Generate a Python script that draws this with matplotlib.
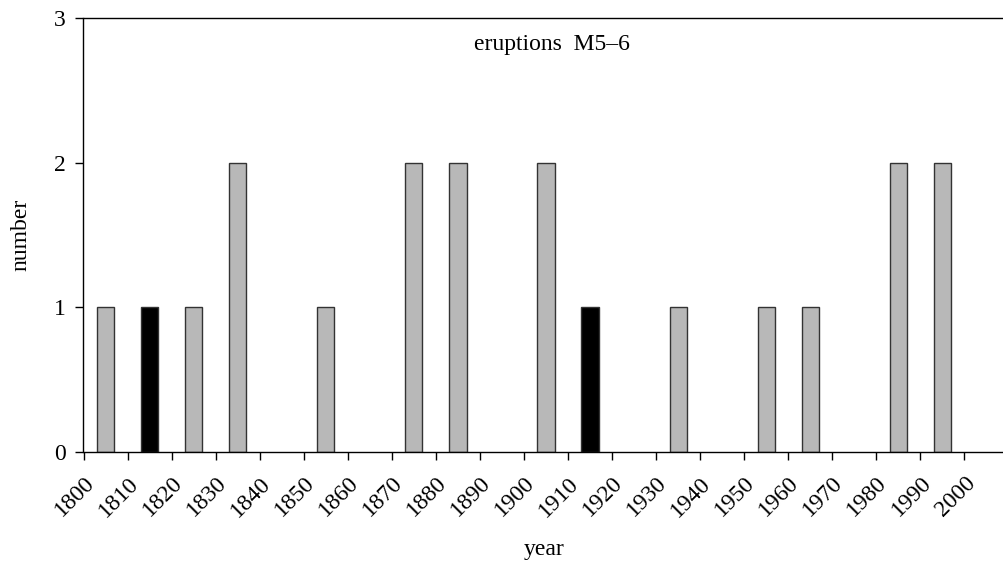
import matplotlib
matplotlib.use("Agg")
import matplotlib.pyplot as plt

decades = [1800, 1810, 1820, 1830, 1840, 1850, 1860, 1870, 1880, 1890,
           1900, 1910, 1920, 1930, 1940, 1950, 1960, 1970, 1980, 1990]
counts = [1, 1, 1, 2, 0, 1, 0, 2, 2, 0, 2, 1, 0, 1, 0, 1, 1, 0, 2, 2]
highlight = [False, True, False, False, False, False, False, False, False, False,
             False, True, False, False, False, False, False, False, False, False]
xticks = list(range(1800, 2001, 10))
yticks = [0, 1, 2, 3]

plt.rcParams['font.family'] = ['Liberation Serif', 'DejaVu Serif']

fig = plt.figure(figsize=(10.04, 5.61), dpi=100)
ax = fig.add_axes([83.5 / 1004, 1 - 452 / 561, 1 - 83.5 / 1004, (452 - 18) / 561])

xs, hs, cs = [], [], []
for d, c, h in zip(decades, counts, highlight):
    if c > 0:
        xs.append(d + 5)
        hs.append(c)
        cs.append('black' if h else '#b8b8b8')
ax.bar(xs, hs, width=3.9, color=cs, edgecolor='#333333', linewidth=1.0)

ax.set_xlim(1800, 1800 + (1004 - 83.5) / 4.405)
ax.set_ylim(0, 3)
ax.set_xticks(xticks)
ax.set_xticklabels([str(t) for t in xticks], rotation=45, ha='right', rotation_mode='anchor')
ax.set_yticks(yticks)
ax.tick_params(axis='both', direction='out', length=6, width=1, labelsize=17, colors='black')
ax.tick_params(axis='x', pad=9)
ax.tick_params(axis='y', pad=7)
ax.spines['right'].set_visible(False)
for s in ['left', 'top', 'bottom']:
    ax.spines[s].set_linewidth(1.0)

ax.set_xlabel('year', fontsize=17, labelpad=13)
ax.set_ylabel('number', fontsize=17, labelpad=16)
ax.text(0.509, 0.94, 'eruptions  M5\u20136', transform=ax.transAxes, ha='center', va='center', fontsize=17)

fig.savefig('out.png', dpi=100)
